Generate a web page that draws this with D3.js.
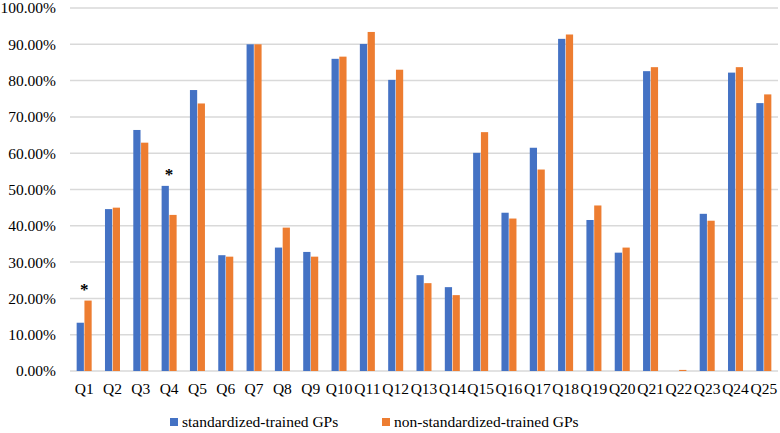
<!DOCTYPE html>
<html>
<head>
<meta charset="utf-8">
<script src="https://cdn.jsdelivr.net/npm/d3@7"></script>
<style>
  html, body { margin: 0; padding: 0; background: #fff; }
  svg { display: block; }
</style>
</head>
<body>
<svg id="chart" width="780" height="433"></svg>
<script>
const categories = ["Q1","Q2","Q3","Q4","Q5","Q6","Q7","Q8","Q9","Q10","Q11","Q12","Q13","Q14","Q15","Q16","Q17","Q18","Q19","Q20","Q21","Q22","Q23","Q24","Q25"];
const seriesNames = ["standardized-trained GPs", "non-standardized-trained GPs"];
const standardized = [0.133,0.446,0.664,0.510,0.774,0.319,0.900,0.340,0.328,0.860,0.901,0.802,0.264,0.231,0.601,0.436,0.615,0.915,0.416,0.326,0.826,0.000,0.433,0.822,0.738];
const nonStandardized = [0.194,0.450,0.629,0.430,0.737,0.315,0.900,0.395,0.315,0.866,0.934,0.830,0.242,0.209,0.658,0.420,0.555,0.927,0.456,0.340,0.837,0.003,0.414,0.837,0.762];
const yTicks = [0,0.1,0.2,0.3,0.4,0.5,0.6,0.7,0.8,0.9,1.0];
const significant = ["Q1","Q4"];
const colors = ["#4472C4", "#ED7D31"];

const FONT = "Liberation Serif, Times New Roman, Times, Tinos, Noto Serif, DejaVu Serif, serif";
const svg = d3.select("#chart").attr("font-family", FONT);
const fontSize = 15.5;
const plot = {left: 70, right: 778, top: 8, bottom: 371};

const y = d3.scaleLinear().domain([0, 1]).range([plot.bottom, plot.top]);
const x0 = d3.scaleBand().domain(categories).range([plot.left, plot.right]).paddingInner(0.47).paddingOuter(0.235);
const x1 = d3.scaleBand().domain(seriesNames).range([0, x0.bandwidth()]).paddingInner(0.07);

// gridlines
svg.append("g").selectAll("line").data(yTicks).join("line")
  .attr("x1", plot.left).attr("x2", plot.right)
  .attr("y1", d => y(d)).attr("y2", d => y(d))
  .attr("stroke", "#d9d9d9").attr("stroke-width", 1.5);

// y axis labels
const yAxis = d3.axisLeft(y).tickValues(yTicks).tickFormat(d3.format(".2%")).tickSize(0).tickPadding(0);
const gy = svg.append("g").attr("transform", "translate(56,0)").call(yAxis);
gy.attr("font-family", FONT).attr("font-size", fontSize);
gy.select(".domain").remove();
gy.selectAll("text").attr("font-family", FONT).attr("font-size", fontSize).attr("fill", "#000");

// bars
const rows = categories.map((c, i) => ({cat: c, vals: [standardized[i], nonStandardized[i]]}));
const groups = svg.append("g").selectAll("g").data(rows).join("g")
  .attr("transform", d => `translate(${x0(d.cat)},0)`);
groups.selectAll("rect").data(d => d.vals.map((v, j) => ({v, s: seriesNames[j], j}))).join("rect")
  .attr("x", d => x1(d.s))
  .attr("width", x1.bandwidth())
  .attr("y", d => y(d.v))
  .attr("height", d => y(0) - y(d.v))
  .attr("fill", d => colors[d.j]);

// x axis labels
const xAxis = d3.axisBottom(x0).tickSize(0).tickPadding(0);
const gx = svg.append("g").attr("transform", `translate(0,${plot.bottom + 12})`).call(xAxis);
gx.attr("font-family", FONT).attr("font-size", fontSize);
gx.select(".domain").remove();
gx.selectAll("text").attr("font-family", FONT).attr("font-size", fontSize).attr("fill", "#000").attr("dy", "0.71em");

// significance markers
svg.append("g").selectAll("text").data(rows.filter(r => significant.includes(r.cat))).join("text")
  .attr("x", d => x0(d.cat) + x0.bandwidth() / 2)
  .attr("y", d => y(d3.max(d.vals)) - 6)
  .attr("text-anchor", "middle")
  .attr("font-family", FONT)
  .attr("font-size", 17)
  .attr("font-weight", "bold")
  .attr("fill", "#000")
  .text("*");

// legend
const legendX = [170, 382];
const lg = svg.append("g").selectAll("g").data(seriesNames).join("g")
  .attr("transform", (d, i) => `translate(${legendX[i]},0)`);
lg.append("rect").attr("x", 0).attr("y", 418).attr("width", 8).attr("height", 8).attr("fill", (d, i) => colors[i]);
lg.append("text").attr("x", 12).attr("y", 427).attr("font-family", FONT).attr("font-size", fontSize).attr("fill", "#000").text(d => d);
</script>
</body>
</html>
